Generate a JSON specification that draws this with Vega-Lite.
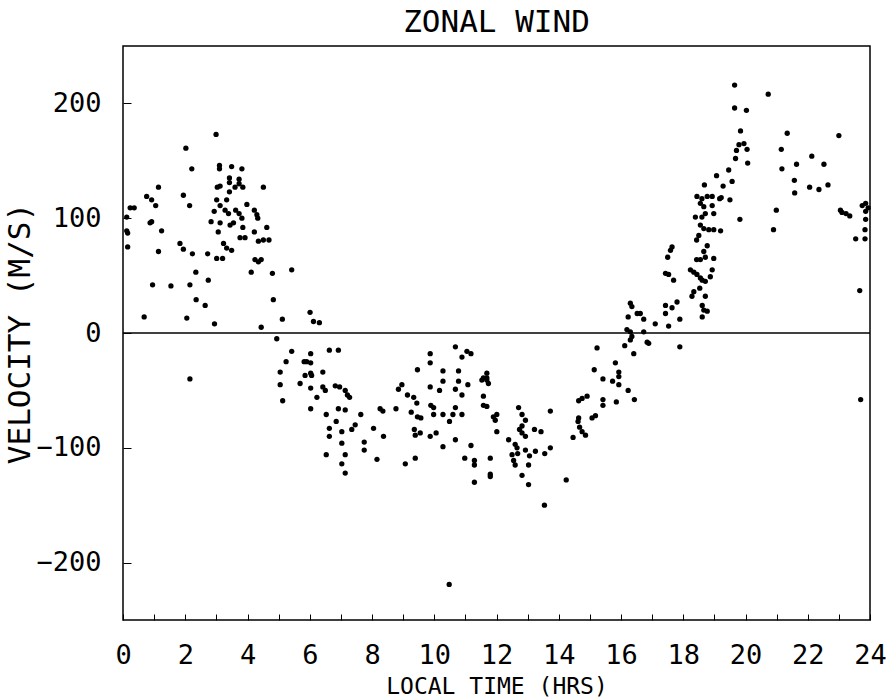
{
  "$schema": "https://vega.github.io/schema/vega-lite/v6.json",
  "width": 747,
  "height": 574,
  "autosize": "none",
  "padding": {"left": 123, "top": 46, "right": 23, "bottom": 79},
  "background": "white",
  "config": {
    "font": "DejaVu Sans Mono",
    "view": {"stroke": "black", "strokeWidth": 1.5},
    "axis": {"grid": false, "domain": false, "tickColor": "black", "labelColor": "black", "titleColor": "black", "labelFont": "DejaVu Sans Mono", "titleFont": "DejaVu Sans Mono", "labelFontWeight": "normal", "titleFontWeight": "normal"}
  },
  "title": {"text": "ZONAL WIND", "fontSize": 31, "fontWeight": "normal", "font": "DejaVu Sans Mono", "color": "black", "offset": 7},
  "layer": [
    {
      "data": {"values": [{"v": 0}]},
      "mark": {"type": "rule", "color": "black", "strokeWidth": 1.5},
      "encoding": {"y": {"field": "v", "type": "quantitative", "scale": {"domain": [-250, 250]}}}
    },
    {
      "data": {"values": [
        {"t":2.99,"v":173},{"t":2.02,"v":161},{"t":2.21,"v":143},{"t":3.10,"v":146},{"t":3.10,"v":143},{"t":3.49,"v":145},{"t":3.82,"v":143},{"t":3.42,"v":135},{"t":3.42,"v":131},{"t":3.73,"v":134},
        {"t":3.73,"v":130},{"t":3.60,"v":127},{"t":3.85,"v":127},{"t":3.03,"v":127},{"t":3.12,"v":128},{"t":1.14,"v":127},{"t":4.51,"v":127},{"t":3.42,"v":123},{"t":1.94,"v":120},{"t":0.76,"v":119},
        {"t":0.92,"v":116},{"t":1.05,"v":111},{"t":2.14,"v":111},{"t":3.01,"v":116},{"t":3.12,"v":111},{"t":3.33,"v":116},{"t":3.98,"v":112},{"t":0.23,"v":109},{"t":0.36,"v":109},{"t":2.93,"v":106},
        {"t":3.28,"v":107},{"t":3.39,"v":104},{"t":3.62,"v":107},{"t":3.73,"v":104},{"t":4.22,"v":107},{"t":4.30,"v":103},{"t":4.33,"v":100},{"t":0.12,"v":101},{"t":2.83,"v":97},{"t":3.12,"v":96},
        {"t":3.44,"v":94},{"t":3.55,"v":96},{"t":3.82,"v":100},{"t":0.87,"v":96},{"t":0.92,"v":97},{"t":0.12,"v":89},{"t":0.15,"v":87},{"t":1.24,"v":89},{"t":3.06,"v":88},{"t":3.85,"v":92},
        {"t":4.22,"v":88},{"t":4.62,"v":92},{"t":3.76,"v":83},{"t":3.92,"v":83},{"t":4.35,"v":80},{"t":4.51,"v":81},{"t":4.69,"v":81},{"t":1.83,"v":78},{"t":1.94,"v":73},{"t":0.15,"v":75},
        {"t":1.14,"v":71},{"t":2.23,"v":69},{"t":2.72,"v":69},{"t":3.23,"v":78},{"t":3.33,"v":74},{"t":3.49,"v":72},{"t":3.01,"v":65},{"t":3.20,"v":65},{"t":4.24,"v":64},{"t":4.35,"v":62},
        {"t":4.44,"v":64},{"t":2.34,"v":53},{"t":4.12,"v":53},{"t":4.80,"v":52},{"t":5.42,"v":55},{"t":2.74,"v":46},{"t":0.95,"v":42},{"t":1.54,"v":41},{"t":2.15,"v":42},{"t":2.35,"v":29},
        {"t":2.64,"v":24},{"t":4.83,"v":29},{"t":0.68,"v":14},{"t":2.05,"v":13},{"t":2.94,"v":8},{"t":4.44,"v":5},{"t":5.12,"v":12},{"t":6.01,"v":18},{"t":6.12,"v":10},{"t":4.94,"v":-5},
        {"t":2.15,"v":-40},{"t":5.42,"v":-16},{"t":5.24,"v":-25},{"t":5.05,"v":-34},{"t":5.05,"v":-45},{"t":5.13,"v":-59},{"t":6.31,"v":9},{"t":6.63,"v":-15},{"t":6.92,"v":-15},{"t":6.03,"v":-18},
        {"t":6.03,"v":-26},{"t":5.82,"v":-25},{"t":5.90,"v":-25},{"t":5.85,"v":-37},{"t":6.03,"v":-35},{"t":6.06,"v":-37},{"t":5.69,"v":-44},{"t":6.42,"v":-34},{"t":6.03,"v":-48},{"t":6.23,"v":-56},
        {"t":6.42,"v":-47},{"t":6.50,"v":-50},{"t":6.82,"v":-46},{"t":6.96,"v":-47},{"t":7.14,"v":-50},{"t":7.21,"v":-54},{"t":7.28,"v":-56},{"t":6.03,"v":-66},{"t":6.92,"v":-66},{"t":7.14,"v":-67},
        {"t":6.53,"v":-71},{"t":6.85,"v":-77},{"t":6.63,"v":-83},{"t":6.63,"v":-90},{"t":7.03,"v":-86},{"t":7.03,"v":-96},{"t":6.53,"v":-106},{"t":7.14,"v":-106},{"t":7.03,"v":-114},{"t":7.14,"v":-122},
        {"t":7.35,"v":-84},{"t":7.46,"v":-80},{"t":7.64,"v":-71},{"t":7.75,"v":-95},{"t":7.75,"v":-102},{"t":8.05,"v":-83},{"t":8.16,"v":-110},{"t":8.26,"v":-66},{"t":8.35,"v":-68},{"t":8.37,"v":-90},
        {"t":8.77,"v":-66},{"t":8.85,"v":-49},{"t":8.96,"v":-45},{"t":9.14,"v":-54},{"t":9.34,"v":-56},{"t":9.44,"v":-61},{"t":9.26,"v":-69},{"t":9.46,"v":-73},{"t":9.57,"v":-74},{"t":9.36,"v":-84},
        {"t":9.39,"v":-89},{"t":9.55,"v":-87},{"t":9.07,"v":-114},{"t":9.39,"v":-109},{"t":9.46,"v":-32},{"t":9.87,"v":-18},{"t":9.87,"v":-26},{"t":9.87,"v":-47},{"t":9.89,"v":-63},{"t":9.98,"v":-65},
        {"t":9.98,"v":-71},{"t":9.87,"v":-90},{"t":10.06,"v":-87},{"t":10.28,"v":-33},{"t":10.28,"v":-42},{"t":10.17,"v":-50},{"t":10.28,"v":-71},{"t":10.28,"v":-99},{"t":10.49,"v":-77},{"t":10.60,"v":-71},
        {"t":10.68,"v":-65},{"t":10.68,"v":-12},{"t":10.89,"v":-21},{"t":11.05,"v":-16},{"t":11.18,"v":-18},{"t":10.78,"v":-33},{"t":10.78,"v":-42},{"t":10.68,"v":-49},{"t":10.89,"v":-54},{"t":10.89,"v":-71},
        {"t":11.08,"v":-45},{"t":10.68,"v":-93},{"t":11.18,"v":-98},{"t":10.98,"v":-109},{"t":11.29,"v":-111},{"t":11.29,"v":-115},{"t":11.29,"v":-130},{"t":11.53,"v":-41},{"t":11.69,"v":-35},{"t":11.69,"v":-41},
        {"t":11.74,"v":-44},{"t":11.58,"v":-55},{"t":11.58,"v":-63},{"t":11.69,"v":-64},{"t":11.90,"v":-73},{"t":12.01,"v":-71},{"t":12.01,"v":-86},{"t":11.80,"v":-109},{"t":11.80,"v":-123},{"t":11.80,"v":-125},
        {"t":10.48,"v":-219},{"t":11.69,"v":-39},{"t":11.58,"v":-39},{"t":11.96,"v":-76},{"t":12.71,"v":-65},{"t":12.82,"v":-71},{"t":12.93,"v":-76},{"t":12.82,"v":-81},{"t":12.74,"v":-84},{"t":12.82,"v":-87},
        {"t":12.93,"v":-90},{"t":13.22,"v":-84},{"t":13.43,"v":-86},{"t":13.73,"v":-68},{"t":12.39,"v":-93},{"t":12.60,"v":-97},{"t":12.66,"v":-100},{"t":12.68,"v":-105},{"t":12.50,"v":-106},{"t":12.55,"v":-111},
        {"t":12.60,"v":-115},{"t":12.93,"v":-102},{"t":13.06,"v":-107},{"t":13.03,"v":-115},{"t":13.25,"v":-103},{"t":13.55,"v":-105},{"t":13.73,"v":-100},{"t":12.82,"v":-124},{"t":13.03,"v":-132},{"t":13.54,"v":-150},
        {"t":14.24,"v":-128},{"t":14.46,"v":-91},{"t":14.64,"v":-74},{"t":14.62,"v":-77},{"t":14.67,"v":-82},{"t":14.75,"v":-86},{"t":14.86,"v":-89},{"t":14.64,"v":-59},{"t":14.75,"v":-57},{"t":14.91,"v":-55},
        {"t":15.07,"v":-74},{"t":15.18,"v":-72},{"t":15.14,"v":-32},{"t":15.23,"v":-13},{"t":15.42,"v":-40},{"t":15.42,"v":-58},{"t":15.42,"v":-63},{"t":15.73,"v":-42},{"t":15.82,"v":-26},{"t":15.93,"v":-34},
        {"t":15.93,"v":-38},{"t":15.93,"v":-45},{"t":15.85,"v":-60},{"t":16.23,"v":-50},{"t":16.43,"v":-58},{"t":16.12,"v":-11},{"t":16.41,"v":-18},{"t":16.19,"v":3},{"t":16.30,"v":1},{"t":16.35,"v":-3},
        {"t":16.30,"v":-6},{"t":16.23,"v":14},{"t":16.30,"v":26},{"t":16.35,"v":23},{"t":16.52,"v":17},{"t":16.62,"v":17},{"t":16.73,"v":12},{"t":16.73,"v":1},{"t":16.84,"v":-8},{"t":16.89,"v":-9},
        {"t":17.10,"v":8},{"t":17.43,"v":24},{"t":17.43,"v":17},{"t":17.64,"v":22},{"t":17.80,"v":27},{"t":17.53,"v":6},{"t":17.89,"v":-12},{"t":17.89,"v":12},{"t":19.65,"v":216},{"t":20.73,"v":208},
        {"t":19.65,"v":196},{"t":20.03,"v":194},{"t":19.84,"v":176},{"t":19.71,"v":159},{"t":19.79,"v":164},{"t":19.95,"v":165},{"t":20.05,"v":160},{"t":19.68,"v":152},{"t":20.07,"v":148},{"t":21.34,"v":174},
        {"t":21.15,"v":160},{"t":21.17,"v":143},{"t":21.64,"v":147},{"t":22.13,"v":154},{"t":22.52,"v":147},{"t":21.57,"v":133},{"t":21.58,"v":122},{"t":22.06,"v":127},{"t":22.36,"v":125},{"t":22.65,"v":129},
        {"t":23.00,"v":172},{"t":20.99,"v":107},{"t":20.90,"v":90},{"t":23.05,"v":107},{"t":23.10,"v":105},{"t":23.23,"v":104},{"t":23.35,"v":102},{"t":23.75,"v":111},{"t":23.86,"v":113},{"t":23.94,"v":109},
        {"t":23.86,"v":106},{"t":23.86,"v":99},{"t":23.54,"v":82},{"t":23.84,"v":90},{"t":23.84,"v":82},{"t":23.67,"v":37},{"t":23.70,"v":-58},{"t":19.82,"v":99},{"t":19.50,"v":116},{"t":19.57,"v":132},
        {"t":19.46,"v":142},{"t":19.28,"v":128},{"t":19.07,"v":137},{"t":18.68,"v":129},{"t":19.17,"v":117},{"t":18.44,"v":119},{"t":18.60,"v":117},{"t":18.77,"v":119},{"t":18.93,"v":119},{"t":19.22,"v":118},
        {"t":18.55,"v":113},{"t":18.66,"v":110},{"t":18.93,"v":111},{"t":18.98,"v":104},{"t":18.39,"v":101},{"t":18.60,"v":101},{"t":18.71,"v":104},{"t":18.55,"v":94},{"t":18.66,"v":91},{"t":18.82,"v":90},
        {"t":18.98,"v":90},{"t":19.20,"v":89},{"t":18.50,"v":85},{"t":18.43,"v":81},{"t":17.64,"v":75},{"t":17.59,"v":72},{"t":17.50,"v":66},{"t":18.77,"v":76},{"t":18.66,"v":71},{"t":18.71,"v":66},
        {"t":18.43,"v":64},{"t":18.55,"v":64},{"t":18.98,"v":65},{"t":17.43,"v":52},{"t":17.53,"v":51},{"t":17.69,"v":46},{"t":18.23,"v":55},{"t":18.34,"v":53},{"t":18.44,"v":51},{"t":18.55,"v":48},
        {"t":18.93,"v":55},{"t":18.87,"v":49},{"t":18.61,"v":46},{"t":18.71,"v":45},{"t":18.53,"v":39},{"t":18.34,"v":36},{"t":18.28,"v":32},{"t":18.71,"v":32},{"t":18.61,"v":24},{"t":18.66,"v":20},
        {"t":18.77,"v":19},{"t":18.61,"v":14}
      ]},
      "mark": {"type": "circle", "color": "black", "opacity": 1, "size": 28},
      "encoding": {
        "x": {
          "field": "t", "type": "quantitative",
          "scale": {"domain": [0, 24], "nice": false, "zero": false},
          "axis": {
            "title": "LOCAL TIME (HRS)", "titleFontSize": 23, "titleY": 66, "titleBaseline": "middle",
            "values": [0,1,2,3,4,5,6,7,8,9,10,11,12,13,14,15,16,17,18,19,20,21,22,23,24],
            "labelExpr": "datum.value % 2 == 0 ? datum.label : ''",
            "labelFontSize": 27, "labelPadding": 28, "tickSize": -6, "labelFlush": false, "labelOverlap": false
          }
        },
        "y": {
          "field": "v", "type": "quantitative",
          "scale": {"domain": [-250, 250], "nice": false},
          "axis": {
            "title": "VELOCITY (M/S)", "titleFontSize": 31, "titleX": -103, "titleY": 287, "titleBaseline": "middle", "titleAngle": -90,
            "values": [-200, -100, 0, 100, 200],
            "labelFontSize": 27, "labelPadding": 30, "tickSize": -8
          }
        }
      }
    }
  ]
}
